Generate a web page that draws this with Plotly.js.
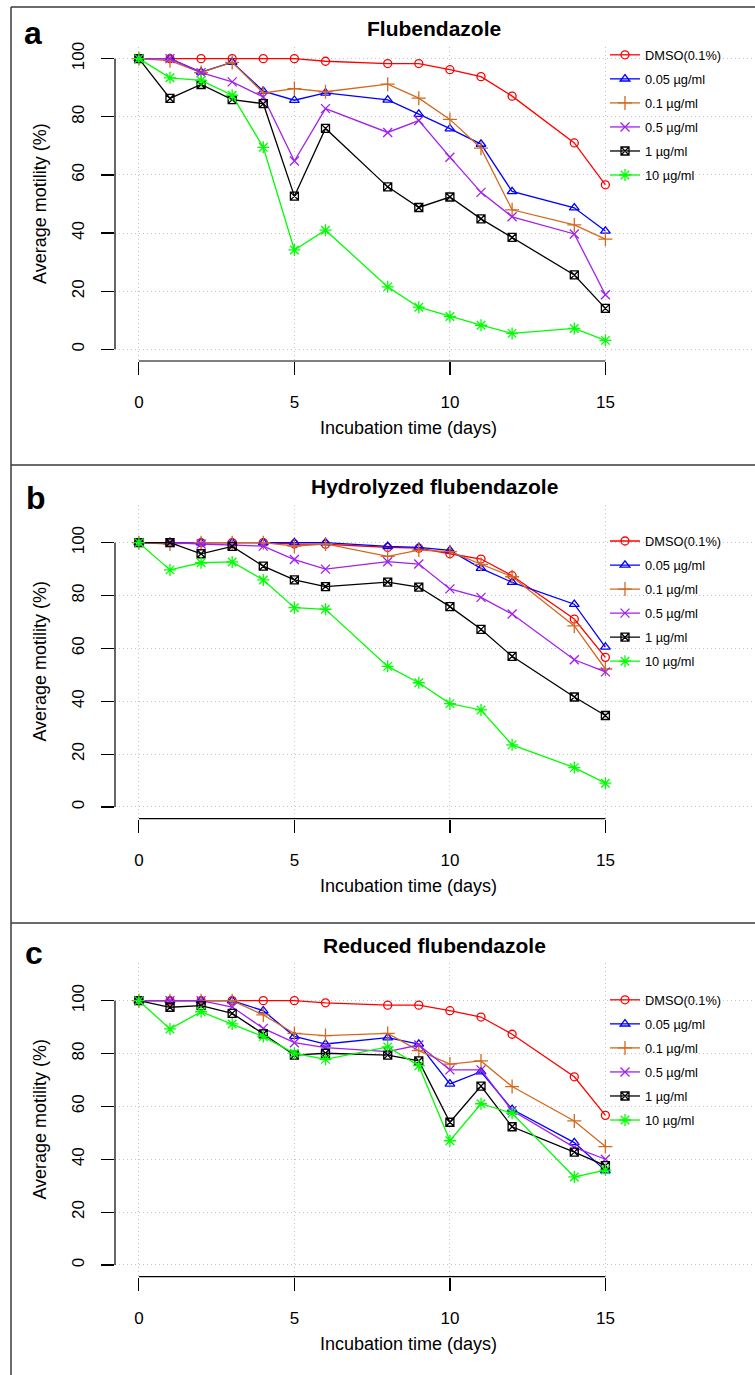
<!DOCTYPE html>
<html><head><meta charset="utf-8">
<script src="https://cdn.plot.ly/plotly-3.0.1.min.js"></script>
<style>html,body{margin:0;padding:0;background:#fff}#chart{width:755px;height:1375px}</style>
</head><body><div id="chart"></div>
<script>
// ---------- data ----------
const days = [0, 1, 2, 3, 4, 5, 6, 8, 9, 10, 11, 12, 14, 15];
const seriesNames = ['DMSO(0.1%)', '0.05 µg/ml', '0.1 µg/ml', '0.5 µg/ml', '1 µg/ml', '10 µg/ml'];
const panelTitles = ['Flubendazole', 'Hydrolyzed flubendazole', 'Reduced flubendazole'];
const panelLetters = ['a', 'b', 'c'];
const xTickVals = [0, 5, 10, 15];
const yTickVals = [0, 20, 40, 60, 80, 100];
const xTitle = 'Incubation time (days)';
const yTitle = 'Average motility (%)';

// Panel a: Flubendazole
const a_dmso = [100, 100, 100, 100, 100, 100, 99.1, 98.3, 98.3, 96.2, 93.8, 87.1, 71.0, 56.6];
const a_005  = [100, 100, 95.4, 98.8, 88.8, 85.7, 88.2, 85.8, 80.9, 75.9, 70.6, 54.3, 48.7, 40.7];
const a_01   = [100, 99.3, 95.2, 98.7, 88.2, 89.7, 88.6, 91.2, 86.4, 79.1, 69.2, 48.0, 42.8, 37.9];
const a_05   = [100, 100, 95.2, 92.0, 86.8, 64.8, 82.8, 74.6, 78.7, 66.1, 54.0, 45.6, 39.7, 18.8];
const a_1    = [100, 86.3, 91.1, 85.9, 84.5, 52.7, 76.0, 55.9, 48.8, 52.4, 44.9, 38.5, 25.6, 14.1];
const a_10   = [100, 93.4, 92.5, 87.4, 69.5, 34.2, 41.0, 21.5, 14.5, 11.3, 8.3, 5.5, 7.2, 3.1];

// Panel b: Hydrolyzed flubendazole
const b_dmso = [100, 100, 100, 100, 100, 99.5, 99.4, 98.2, 97.9, 95.8, 93.8, 87.5, 71.1, 56.6];
const b_005  = [100, 100, 100, 100, 100, 100, 100, 98.6, 98.2, 97.1, 90.3, 85.0, 76.7, 60.5];
const b_01   = [100, 99.5, 100, 100, 100, 98.7, 99.5, 94.8, 97.2, 96.6, 91.8, 87.1, 68.5, 52.2];
const b_05   = [100, 100, 99.5, 99.0, 98.7, 93.6, 90.0, 92.8, 91.9, 82.5, 79.3, 73.0, 55.7, 51.1];
const b_1    = [100, 100, 95.8, 98.6, 91.1, 85.9, 83.4, 85.1, 83.2, 75.8, 67.2, 57.0, 41.6, 34.6];
const b_10   = [100, 89.7, 92.4, 92.7, 85.9, 75.4, 74.8, 53.2, 47.0, 39.1, 36.7, 23.5, 14.9, 9.0];

// Panel c: Reduced flubendazole
const c_dmso = [100, 100, 100, 100, 100, 100, 99.2, 98.3, 98.3, 96.2, 93.8, 87.3, 71.2, 56.6];
const c_005  = [100, 100, 100, 100, 96.2, 86.5, 83.6, 86.0, 83.6, 68.5, 73.1, 58.9, 46.3, 35.7];
const c_01   = [100, 100, 100, 100, 94.6, 87.6, 86.8, 87.6, 81.1, 76.0, 77.2, 67.5, 54.5, 44.8];
const c_05   = [100, 100, 100, 97.6, 89.5, 84.1, 82.2, 80.7, 83.2, 73.8, 73.8, 58.4, 44.5, 40.0];
const c_1    = [100, 97.5, 98.1, 95.2, 87.4, 79.4, 80.1, 79.4, 77.2, 54.0, 67.7, 52.3, 42.7, 37.6];
const c_10   = [100, 89.3, 95.8, 91.2, 86.4, 80.1, 77.8, 82.5, 75.4, 47.0, 61.0, 57.4, 33.3, 35.9];

const panelSeries = [
  [a_dmso, a_005, a_01, a_05, a_1, a_10],
  [b_dmso, b_005, b_01, b_05, b_1, b_10],
  [c_dmso, c_005, c_01, c_05, c_1, c_10]
];

// ---------- styles ----------
const seriesColors  = ['#FF0000', '#0000FF', '#D2691E', '#A020F0', '#000000', '#00FF00'];
const seriesSymbols = ['circle-open', 'triangle-up-open', 'cross-thin-open', 'x-thin-open', 'square-x-open', 'asterisk-open'];
const seriesSizes   = [8, 8.5, 10, 9, 8, 10];
const FONT = 'Liberation Sans, Arial, Helvetica, sans-serif';
const GRID = {showgrid: true, gridcolor: '#c4c4c4', griddash: '1px,3px', gridwidth: 1};

const W = 755, H = 1375;
const fx = px => px / W;
const fy = py => 1 - py / H;

const plotTop    = [47, 504.6, 962.6];
const plotBottom = [361, 818.6, 1276.6];
const yRanges    = [[-4, 104], [-4.4, 114.4], [-4.4, 114.4]];
const xDomainLeft = 115;
const xRange = [-0.768, 19.81];
const legendTop = [40, 526.2, 985];
const legendLeft = 605;
const letterY = [32.5, 498.5, 952.5];
const letterX = [33, 36, 34];
const titleY = [28.7, 486.7, 945.7];
const xTitleY = [428, 886, 1344];

const traces = [];
const layout = {
  width: W, height: H,
  margin: {l: 0, r: 0, t: 0, b: 0},
  paper_bgcolor: '#ffffff', plot_bgcolor: '#ffffff',
  font: {family: FONT, color: '#000000', size: 17},
  showlegend: true,
  shapes: [], annotations: []
};

for (let p = 0; p < 3; p++) {
  const sfx = p === 0 ? '' : String(p + 1);
  const xa = 'x' + sfx, ya = 'y' + sfx;
  const legName = 'legend' + sfx;
  for (let s = 0; s < 6; s++) {
    traces.push({
      type: 'scatter', mode: 'lines+markers',
      x: days, y: panelSeries[p][s],
      xaxis: xa, yaxis: ya,
      name: seriesNames[s],
      legend: legName,
      legendgroup: 'p' + p + 's' + s,
      line: {color: seriesColors[s], width: 1.3},
      marker: {symbol: seriesSymbols[s], size: seriesSizes[s], color: seriesColors[s],
               line: {color: seriesColors[s], width: 1.3}}
    });
  }
  layout['xaxis' + sfx] = Object.assign({
    domain: [fx(xDomainLeft), 1], range: xRange, anchor: ya,
    showline: false, zeroline: false,
    tickmode: 'array', tickvals: xTickVals, ticktext: xTickVals.map(String),
    ticks: 'outside', ticklen: 13, tickwidth: 1.2, tickcolor: '#000',
    ticklabelstandoff: 13,
    tickfont: {family: FONT, size: 17, color: '#000'}
  }, GRID);
  layout['yaxis' + sfx] = Object.assign({
    domain: [fy(plotBottom[p]), fy(plotTop[p])], range: yRanges[p], anchor: xa,
    showline: false, zeroline: false,
    tickmode: 'array', tickvals: yTickVals, ticktext: yTickVals.map(String),
    ticks: 'outside', ticklen: 13, tickwidth: 1.2, tickcolor: '#000',
    tickangle: -90, ticklabelstandoff: 10,
    tickfont: {family: FONT, size: 17, color: '#000'}
  }, GRID);
  layout[legName] = {
    x: fx(legendLeft), y: fy(legendTop[p]), xanchor: 'left', yanchor: 'top',
    bgcolor: 'rgba(255,255,255,0)', borderwidth: 0,
    font: {family: FONT, size: 12.8, color: '#000'},
    tracegroupgap: 4.4, traceorder: 'grouped', itemwidth: 30
  };
  // white legend background between gridlines and traces (as R's legend box)
  layout.shapes.push({type: 'rect', layer: 'between', xref: 'paper', yref: 'paper',
    x0: fx(612), x1: fx(724), y0: fy(legendTop[p] + 148), y1: fy(legendTop[p] + 2),
    fillcolor: '#ffffff', line: {width: 0}});
  // R-style axis lines spanning first to last tick
  layout.shapes.push({type: 'line', xref: 'paper', yref: ya,
    x0: fx(xDomainLeft), x1: fx(xDomainLeft), y0: yTickVals[0], y1: yTickVals[yTickVals.length - 1],
    line: {color: '#000', width: 1.2}});
  layout.shapes.push({type: 'line', xref: xa, yref: 'paper',
    x0: xTickVals[0], x1: xTickVals[xTickVals.length - 1], y0: fy(plotBottom[p]), y1: fy(plotBottom[p]),
    line: {color: '#000', width: 1.2}});
  // panel title, letter, axis titles
  layout.annotations.push({text: '<b>' + panelTitles[p] + '</b>', xref: 'paper', yref: 'paper',
    x: fx(434), y: fy(titleY[p]), xanchor: 'center', yanchor: 'middle', showarrow: false,
    font: {family: FONT, size: 21, color: '#000'}});
  layout.annotations.push({text: '<b>' + panelLetters[p] + '</b>', xref: 'paper', yref: 'paper',
    x: fx(letterX[p]), y: fy(letterY[p]), xanchor: 'center', yanchor: 'middle', showarrow: false,
    font: {family: FONT, size: 32, color: '#000'}});
  layout.annotations.push({text: xTitle, xref: 'paper', yref: 'paper',
    x: fx(408), y: fy(xTitleY[p]), xanchor: 'center', yanchor: 'middle', showarrow: false,
    font: {family: FONT, size: 18, color: '#000'}});
  layout.annotations.push({text: yTitle, xref: 'paper', yref: 'paper', textangle: -90,
    x: fx(40), y: fy((plotTop[p] + plotBottom[p]) / 2), xanchor: 'center', yanchor: 'middle', showarrow: false,
    font: {family: FONT, size: 18, color: '#000'}});
}

// panel frames
const frameColor = '#3a3a3a';
layout.shapes.push({type: 'line', xref: 'paper', yref: 'paper', x0: fx(11), x1: fx(11), y0: fy(7), y1: 0,
  line: {color: frameColor, width: 1.5}});
[7, 465, 923].forEach(py => layout.shapes.push({type: 'line', xref: 'paper', yref: 'paper',
  x0: fx(11), x1: 1, y0: fy(py), y1: fy(py), line: {color: frameColor, width: 1.5}}));

Plotly.newPlot('chart', traces, layout, {staticPlot: true, displayModeBar: false});
</script>
</body></html>
